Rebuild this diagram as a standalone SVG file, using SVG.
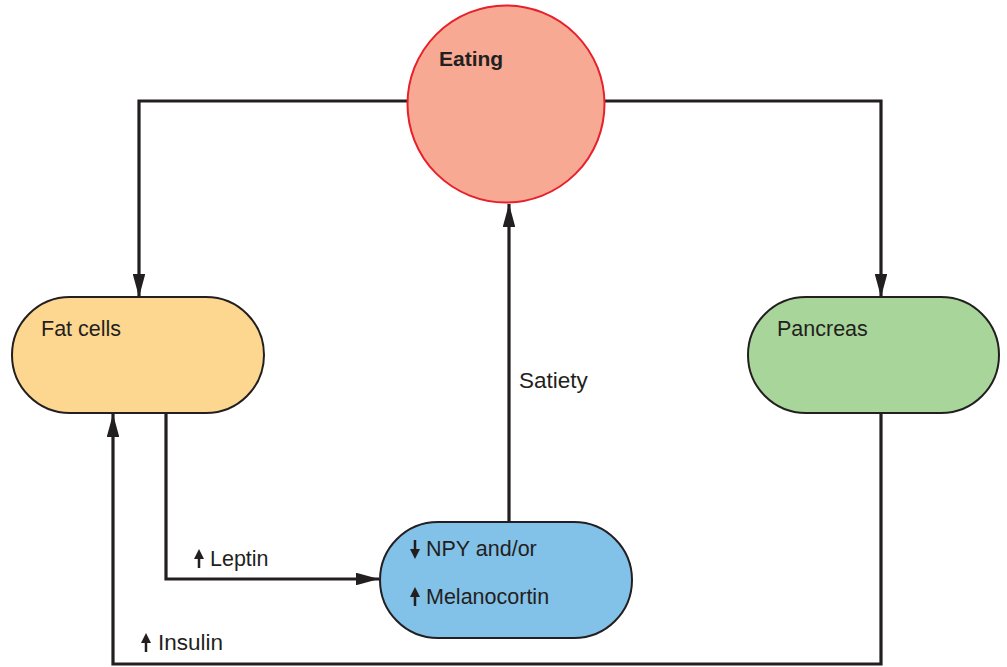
<svg xmlns="http://www.w3.org/2000/svg" width="1007" height="667" viewBox="0 0 1007 667">
  <defs>
    <marker id="head" viewBox="0 0 22 12" refX="22" refY="6" markerWidth="7.3" markerHeight="4" orient="auto" markerUnits="strokeWidth">
      <path d="M0,0 L22,6 L0,12 Z" fill="#231f20"/>
    </marker>
    <!-- small up/down arrow used beside labels -->
    <g id="up">
      <path d="M0,-10 L-5,0 L5,0 Z" fill="#231f20"/>
      <rect x="-1.25" y="-1" width="2.5" height="10" fill="#231f20"/>
    </g>
    <g id="down">
      <path d="M0,10 L-5,0 L5,0 Z" fill="#231f20"/>
      <rect x="-1.25" y="-9" width="2.5" height="10" fill="#231f20"/>
    </g>
  </defs>
  <style>
    .lbl { font-family: "Liberation Sans", Arial, sans-serif; font-size: 21.5px; fill: #231f20; }
    .big { font-size: 22.5px; }
    .bold { font-weight: bold; font-size: 21px; }
    .pill { stroke: #231f20; stroke-width: 2; }
    .conn { fill: none; stroke: #231f20; stroke-width: 3.2; marker-end: url(#head); }
  </style>
  <rect width="1007" height="667" fill="#ffffff"/>

  <g id="connectors">
    <!-- Eating to fat cells -->
    <path class="conn" d="M407,101 H139 V297"/>
    <!-- Eating to pancreas -->
    <path class="conn" d="M604,101 H881 V297"/>
    <!-- NPY/melanocortin up to eating (satiety) -->
    <path class="conn" d="M509,522 V204"/>
    <!-- Fat cells to NPY (leptin) -->
    <path class="conn" d="M166,413 V579 H379"/>
    <!-- Pancreas to fat cells (insulin) -->
    <path class="conn" d="M881,413 V664 H113 V414"/>
  </g>

  <g id="eating">
    <circle cx="506" cy="104" r="98.5" fill="#f7a994" stroke="#e8202a" stroke-width="2"/>
    <text class="lbl bold" x="439" y="66">Eating</text>
  </g>

  <g id="fat-cells">
    <rect class="pill" x="12" y="297" width="252" height="116" rx="58" fill="#fdd690"/>
    <text class="lbl" x="41" y="336">Fat cells</text>
  </g>

  <g id="pancreas">
    <rect class="pill" x="748" y="297" width="251" height="116" rx="58" fill="#a8d59a"/>
    <text class="lbl" x="777" y="336">Pancreas</text>
  </g>

  <g id="npy">
    <rect class="pill" x="380" y="522" width="252" height="116" rx="58" fill="#82c1e8"/>
    <use href="#down" x="415" y="549"/>
    <text class="lbl" x="426" y="556">NPY and/or</text>
    <use href="#up" x="415" y="597"/>
    <text class="lbl" x="426" y="604">Melanocortin</text>
  </g>

  <g id="labels">
    <text class="lbl big" x="519" y="388">Satiety</text>
    <use href="#up" x="199" y="559"/>
    <text class="lbl" x="210" y="566">Leptin</text>
    <use href="#up" x="146" y="643"/>
    <text class="lbl big" x="158" y="650">Insulin</text>
  </g>
</svg>
